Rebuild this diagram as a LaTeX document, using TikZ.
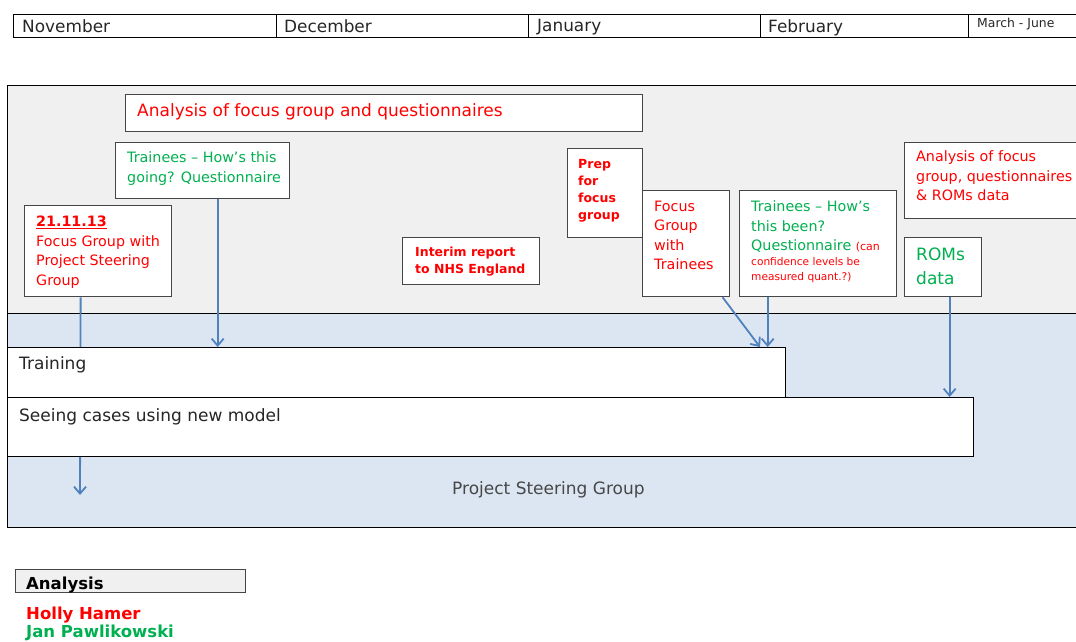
\documentclass[tikz,border=0pt]{standalone}
\usepackage{fontspec}
\setmainfont{DejaVu Sans}
\usetikzlibrary{arrows.meta,calc}

\definecolor{hred}{RGB}{255,0,0}
\definecolor{hgreen}{RGB}{0,176,80}
\definecolor{flow}{RGB}{79,129,189}
\definecolor{paneltop}{RGB}{240,240,240}
\definecolor{panelbot}{RGB}{220,230,242}
\definecolor{boxline}{RGB}{70,70,70}
\definecolor{ink}{RGB}{38,38,38}

\newcommand{\fsz}[2]{\fontsize{#1pt}{#2pt}\selectfont}

\pgfdeclarelayer{bg}
\pgfdeclarelayer{mid}
\pgfsetlayers{bg,mid,main}

\tikzset{
  cell/.style={draw=black, line width=1.2pt, anchor=north west, minimum height=23pt, inner sep=0pt},
  panel/.style={draw=black, line width=1pt, anchor=north west, inner sep=0pt},
  box/.style={draw=boxline, line width=1.3pt, fill=white, anchor=north west, inner sep=0pt},
  bar/.style={draw=black, line width=1pt, fill=white, anchor=north west, inner sep=0pt},
  txt/.style={anchor=north west, inner sep=0pt, align=left},
  flowarrow/.style={draw=flow, line width=1.8pt, -{Straight Barb[length=7pt,width=12pt]}},
}

\begin{document}
\begin{tikzpicture}[x=1pt,y=-1pt]
\useasboundingbox (0,0) rectangle (1076,641);
\clip (0,0) rectangle (1076,641);

% month header
\node[cell, minimum width=263] (nov) at (13,14) {};
\node[cell, minimum width=252] (dec) at (276,14) {};
\node[cell, minimum width=232] (jan) at (528,14) {};
\node[cell, minimum width=208] (feb) at (760,14) {};
\node[cell, minimum width=120] (mar) at (968,14) {};
\node[txt, font=\fsz{16.9}{20}, text=ink] (novt) at (22,19.2) {November};
\node[txt, font=\fsz{16.9}{20}, text=ink] (dect) at (284,19.2) {December};
\node[txt, font=\fsz{16.9}{20}, text=ink] (jant) at (537,19.2) {January};
\node[txt, font=\fsz{16.9}{20}, text=ink] (febt) at (768,19.2) {February};
\node[txt, font=\fsz{12.4}{14}, text=ink] (mart) at (977,18.3) {March - June};

% swim lanes
\begin{pgfonlayer}{bg}
\node[panel, fill=paneltop, minimum width=1080, minimum height=228] (lanetop) at (7,85) {};
\node[panel, fill=panelbot, minimum width=1080, minimum height=214] (lanebot) at (7,313) {};
\end{pgfonlayer}

% activity bars
\node[bar, minimum width=778, minimum height=50] (train) at (7,347) {};
\node[bar, minimum width=966, minimum height=59] (seeing) at (7,397) {};
\node[txt, font=\fsz{17}{20}, text=ink] (traint) at (19,356.6) {Training};
\node[txt, font=\fsz{17}{20}, text=ink] (seeingt) at (19,408.1) {Seeing cases using new model};
\node[txt, font=\fsz{17}{20}, text=ink!85] (psg) at (452,481.1) {Project Steering Group};
\coordinate (psgin) at (80,495);

% milestone boxes
\node[box, minimum width=517, minimum height=37] (an1) at (125,94) {};
\node[txt, font=\fsz{17}{20}, text=hred] (an1t) at (137,103.1) {Analysis of focus group and questionnaires};

\node[box, minimum width=174, minimum height=56] (q1) at (115,142) {};
\node[txt, font=\fsz{14.3}{20}, text=hgreen] (q1t) at (127,151.2) {Trainees – How’s this\\going? Questionnaire};

\node[box, minimum width=147, minimum height=91] (fg1) at (24,205) {};
\node[txt, font=\fsz{14.3}{19.7}, text=hred] (fg1t) at (36,215.6) {\underline{\textbf{21.11.13}}\\Focus Group with\\Project Steering\\Group};

\node[box, minimum width=137, minimum height=47] (interim) at (402,237) {};
\node[txt, font=\fsz{12.5}{16.6}\bfseries, text=hred] (interimt) at (415,247.2) {Interim report\\to NHS England};

\node[box, minimum width=75, minimum height=89] (prep) at (567,148) {};
\node[txt, font=\fsz{12.5}{17}\bfseries, text=hred] (prept) at (578,158.9) {Prep\\for\\focus\\group};

\node[box, minimum width=87, minimum height=106] (fg2) at (642,190) {};
\node[txt, font=\fsz{14.3}{19.5}, text=hred] (fg2t) at (654,200.6) {Focus\\Group\\with\\Trainees};

\node[box, minimum width=157, minimum height=106] (q2) at (739,190) {};
\node[txt, font=\fsz{14.3}{19.5}, text=hgreen] (q2t) at (751,200.6) {Trainees – How’s\\this been?\\Questionnaire {\color{hred}\fsz{11}{14.5}(can}};
\node[txt, font=\fsz{10.6}{14.5}, text=hred] (q2n) at (751,257.6) {confidence levels be\\measured quant.?)};

\node[box, minimum width=180, minimum height=76] (an2) at (904,142) {};
\node[txt, font=\fsz{14.3}{19.5}, text=hred] (an2t) at (916,150.9) {Analysis of focus\\group, questionnaires\\\& ROMs data};

\node[box, minimum width=77, minimum height=59] (roms) at (904,237) {};
\node[txt, font=\fsz{17}{24}, text=hgreen] (romst) at (916,247.6) {ROMs\\data};

% connectors
\begin{pgfonlayer}{mid}
\draw[flowarrow] ([xshift=-17.5pt]fg1.south) -- (psgin);
\end{pgfonlayer}
\draw[flowarrow] ([xshift=15pt]q1.south) -- ([xshift=15pt]q1.south |- train.north);
\draw[flowarrow] ([xshift=36.5pt]fg2.south) -- ([xshift=-26pt]train.north east);
\draw[flowarrow] ([xshift=-50.5pt]q2.south) -- ([xshift=-50.5pt]q2.south |- train.north);
\draw[flowarrow] ([xshift=6.5pt]roms.south) -- ([xshift=6.5pt]roms.south |- seeing.north);

% key
\node[box, fill=paneltop, minimum width=230, minimum height=23] (key) at (15,569) {};
\node[txt, font=\fsz{16.5}{20}\bfseries, text=black] (keyt) at (26,576.5) {Analysis};
\node[txt, font=\fsz{16.5}{18}\bfseries] (names) at (26,606.5) {\textcolor{hred}{Holly Hamer}\\\textcolor{hgreen}{Jan Pawlikowski}};
\end{tikzpicture}
\end{document}
